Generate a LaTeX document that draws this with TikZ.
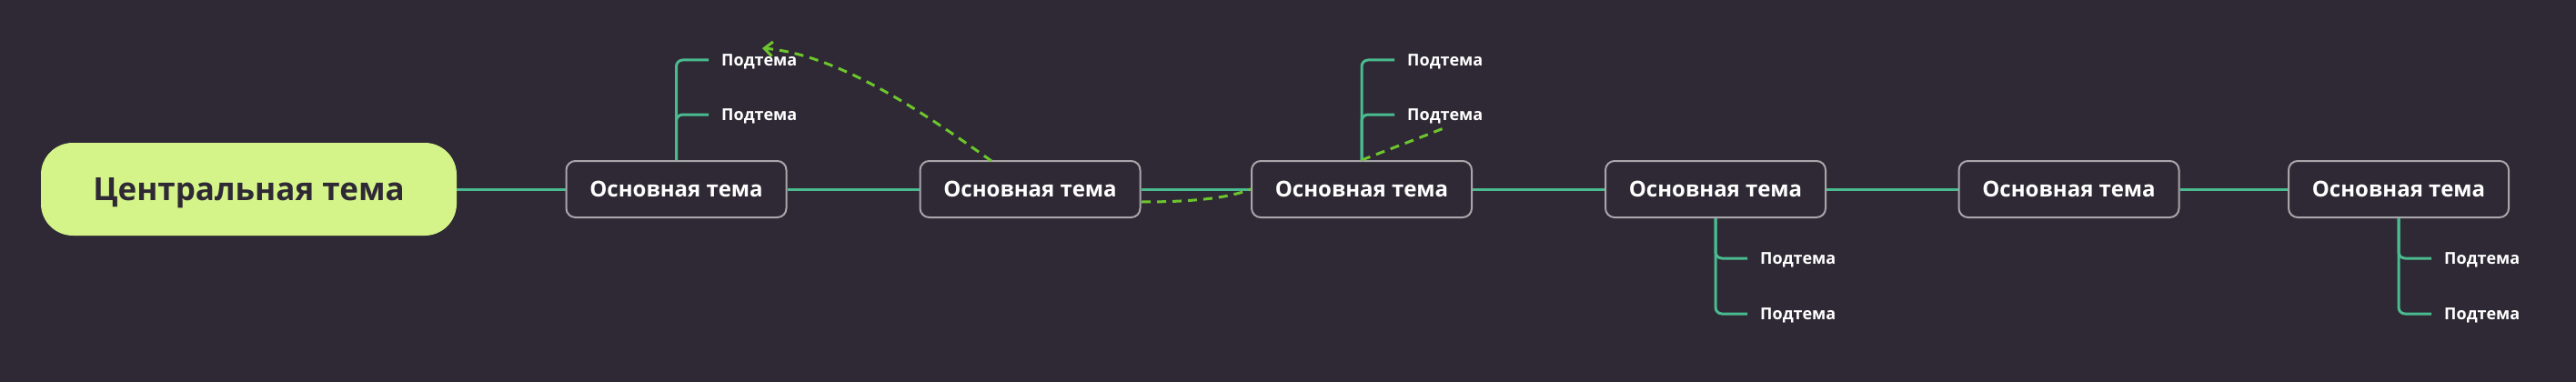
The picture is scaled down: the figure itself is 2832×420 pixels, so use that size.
\documentclass[tikz,border=0pt]{standalone}
\usepackage{fontspec}
\setmainfont{Open Sans}
\usetikzlibrary{arrows.meta}
\definecolor{bg}{HTML}{2E2934}
\definecolor{teal}{HTML}{4ABA8F}
\definecolor{boxline}{HTML}{A9A5AB}
\definecolor{central}{HTML}{D4F48A}
\definecolor{dashgreen}{HTML}{6DC52E}
\tikzset{
  centralbox/.style={fill=central, draw=none, rounded corners=35pt, minimum width=457pt, minimum height=102pt, inner sep=0pt, text height=25pt, text depth=0pt, font=\fontsize{35}{40}\selectfont\bfseries, text=bg},
  mainbox/.style={fill=bg, draw=boxline, line width=2pt, rounded corners=10pt, minimum width=242pt, minimum height=62pt, inner sep=0pt, text height=17pt, text depth=0pt, font=\fontsize{24}{28}\selectfont\bfseries, text=white},
  subtext/.style={anchor=west, inner xsep=14pt, inner ysep=0pt, text height=13pt, text depth=0pt, font=\fontsize{18}{22}\selectfont\bfseries, text=white},
  branch/.style={draw=teal, line width=3pt},
  subbranch/.style={draw=teal, line width=3pt, rounded corners=7pt},
  dashlink/.style={draw=dashgreen, line width=3pt, dash pattern=on 10pt off 7pt}
}
\begin{document}
\begin{tikzpicture}[x=1pt,y=-1pt]
\useasboundingbox[fill=bg] (0,0) rectangle (2832,420);
\node[centralbox] (c) at (273.5,208) {Центральная тема};
\node[mainbox] (m1) at (743.5,208) {Основная тема};
\node[mainbox] (m2) at (1132.5,208) {Основная тема};
\node[mainbox] (m3) at (1497,208) {Основная тема};
\node[mainbox] (m4) at (1886,208) {Основная тема};
\node[mainbox] (m5) at (2274.5,208) {Основная тема};
\node[mainbox] (m6) at (2637,208) {Основная тема};
\node[subtext] (s11) at (779,66) {Подтема};
\node[subtext] (s12) at (779,126) {Подтема};
\node[subtext] (s31) at (1533,66) {Подтема};
\node[subtext] (s32) at (1533,126) {Подтема};
\node[subtext] (s41) at (1921,284) {Подтема};
\node[subtext] (s42) at (1921,345) {Подтема};
\node[subtext] (s61) at (2673,284) {Подтема};
\node[subtext] (s62) at (2673,345) {Подтема};
\draw[branch] (c.east) -- (m1.west);
\draw[branch] (m1.east) -- (m2.west);
\draw[branch] (m2.east) -- (m3.west);
\draw[branch] (m3.east) -- (m4.west);
\draw[branch] (m4.east) -- (m5.west);
\draw[branch] (m5.east) -- (m6.west);
\draw[subbranch] (m1.north) |- (s11.west);
\draw[subbranch] (m1.north) |- (s12.west);
\draw[subbranch] (m3.north) |- (s31.west);
\draw[subbranch] (m3.north) |- (s32.west);
\draw[subbranch] (m4.south) |- (s41.west);
\draw[subbranch] (m4.south) |- (s42.west);
\draw[subbranch] (m6.south) |- (s61.west);
\draw[subbranch] (m6.south) |- (s62.west);
\coordinate (a1s) at (1090,177);
\coordinate (a1e) at (838,53);
\coordinate (a2s) at (1255,222);
\coordinate (a3e) at (1592,139);
\draw[dashlink, -{Straight Barb[length=9pt,width=16pt,line width=3pt]}] (a1s) .. controls (1010,120) and (920,60) .. (a1e);
\draw[dashlink] (a2s) .. controls (1310,222) and (1350,218) .. (m3.west);
\draw[dashlink] (m3.north) .. controls (1530,163) and (1560,152) .. (a3e);
\end{tikzpicture}
\end{document}
